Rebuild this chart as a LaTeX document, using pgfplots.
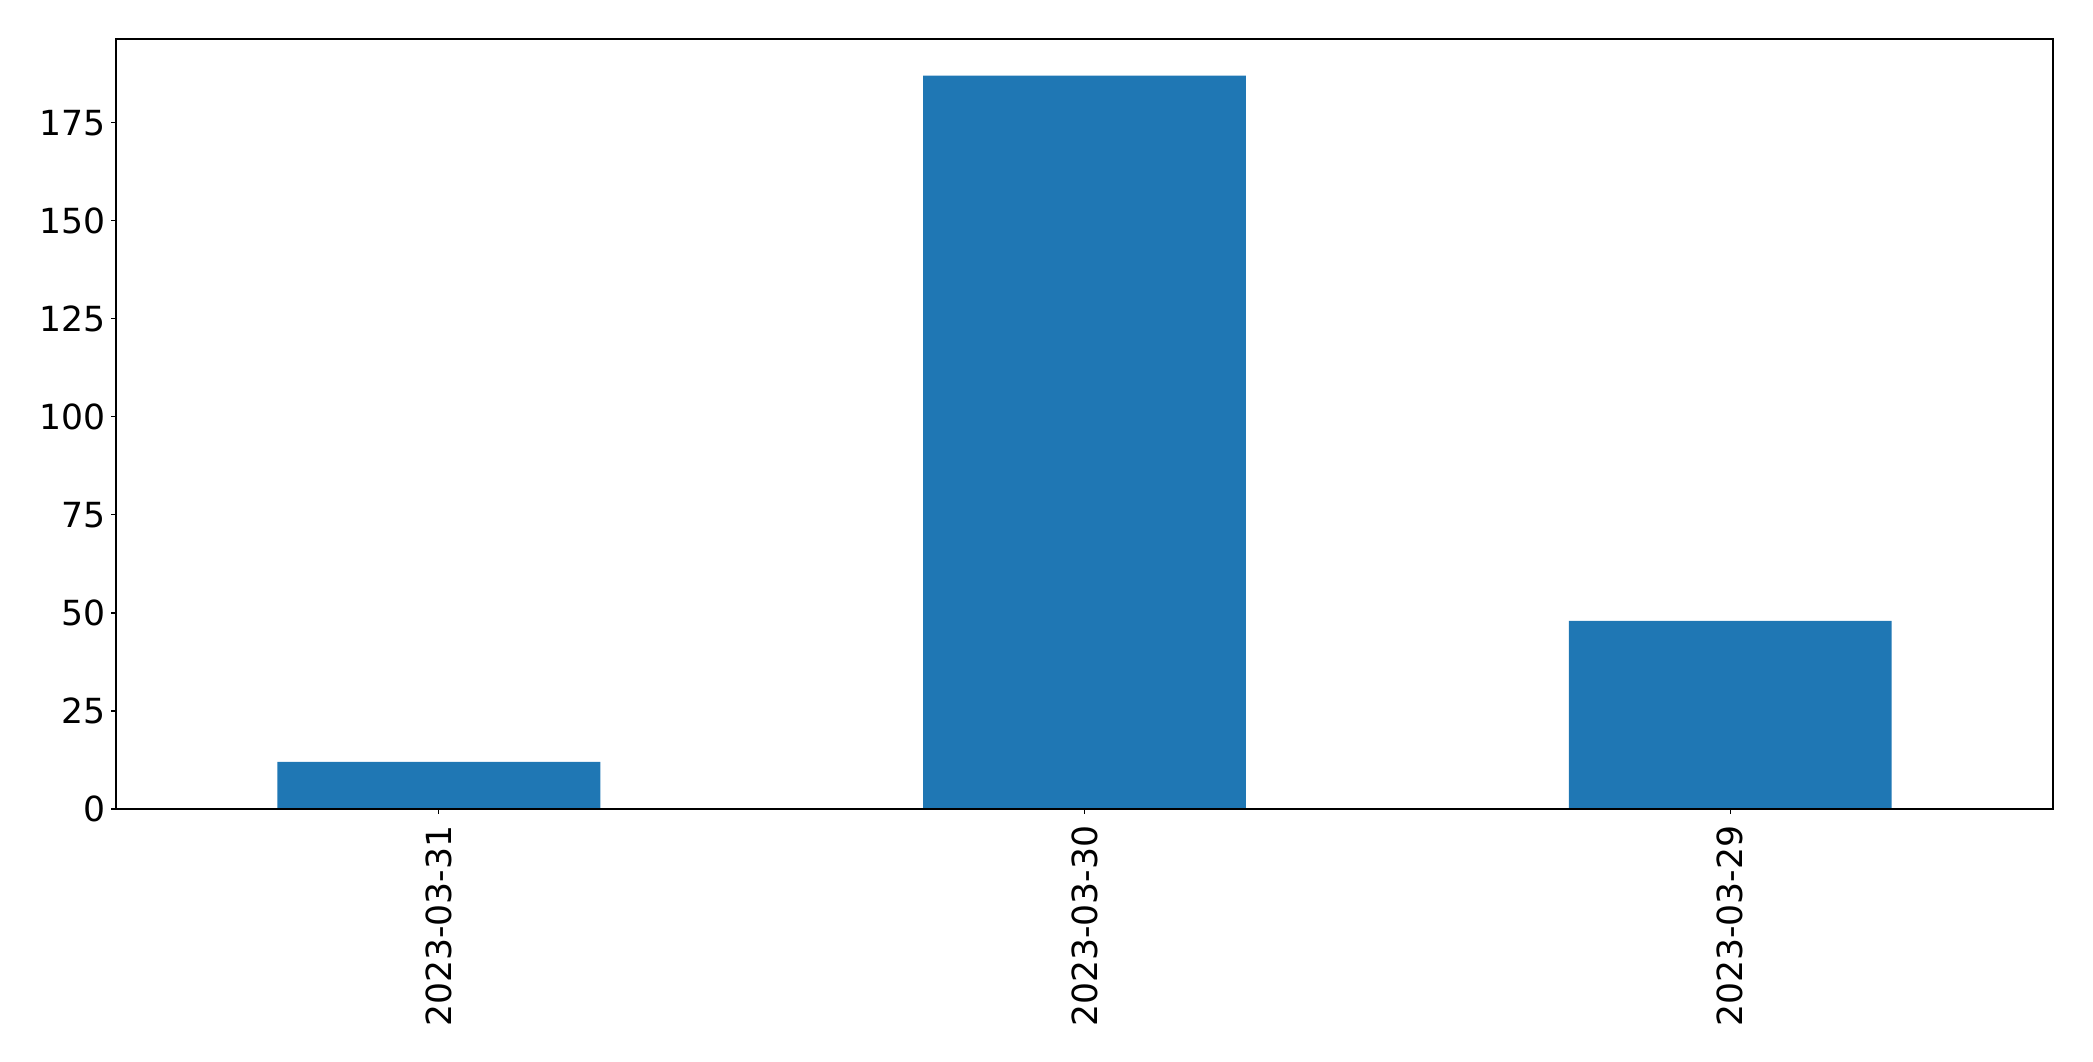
\documentclass[border=0pt]{standalone}
\usepackage{fontspec}
\setmainfont{DejaVu Sans}
\usepackage{pgfplots}
\pgfplotsset{compat=1.18}
\definecolor{mplblue}{HTML}{1F77B4}
\begin{document}
\fontsize{25}{30}\selectfont
\begin{tikzpicture}
\begin{axis}[
  scale only axis,
  width=1394.6bp, height=554.4bp,
  xmin=-0.5, xmax=2.5,
  ymin=0, ymax=196.35,
  xtick={0,1,2},
  xticklabels={2023-03-31,2023-03-30,2023-03-29},
  x tick label style={rotate=90, anchor=east},
  y tick label style={xshift=4.3bp},
  ytick={0,25,50,75,100,125,150,175},
  /pgf/number format/assume math mode=true,
  tick label style={font=\fontsize{25}{30}\selectfont},
  tick align=outside,
  tick pos=left,
  major tick length=3.5bp,
  axis line style={line width=0.8bp},
  every tick/.style={line width=0.8bp, black},
  ybar, bar width=0.5,
  axis on top,
]
\addplot[fill=mplblue, draw=none] coordinates {(0,12) (1,187) (2,48)};
\end{axis}
\path (current axis.south west) ++(-83.52bp,-181.44bp) rectangle ([shift={(28.8bp,28.08bp)}]current axis.north east);
\end{tikzpicture}
\end{document}
